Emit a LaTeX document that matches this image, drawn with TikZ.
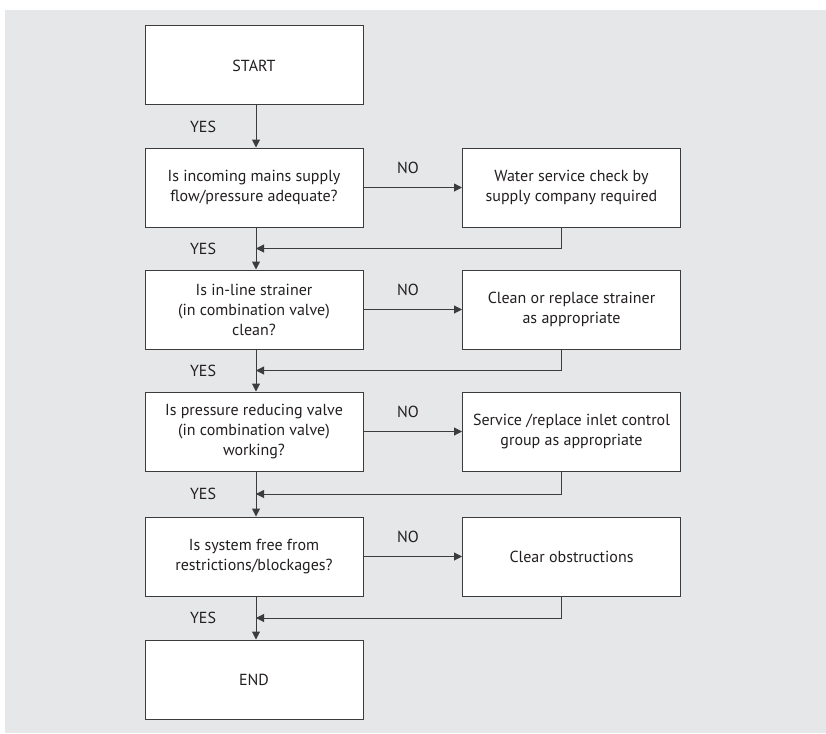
\documentclass[tikz,border=0pt]{standalone}
\usepackage{fontspec}
\setmainfont{PT Sans}
\usetikzlibrary{arrows.meta,calc}
\definecolor{bg}{HTML}{E6E7E8}
\definecolor{ln}{HTML}{3C3C3C}
\definecolor{tx}{HTML}{231F20}
\begin{document}
\begin{tikzpicture}[x=1pt,y=-1pt,
  box/.style={draw=ln, line width=1pt, fill=white, minimum width=218pt, minimum height=79pt,
    align=center, inner sep=0pt, text=tx, font=\fontsize{16}{20}\selectfont},
  conn/.style={draw=ln, line width=1pt, -{Triangle[length=8pt,width=8pt]}},
  lbl/.style={text=tx, font=\fontsize{16}{18}\selectfont, inner sep=0pt}]
\useasboundingbox (0,0) rectangle (826,733);
\fill[bg] (5,10) rectangle (826,733);
\coordinate (c) at (256,0);
\coordinate (r) at (561,0);
% left column
\node[box] (s)  at (254,65.5)  {START};
\node[box] (q1) at (254,187.5) {Is incoming mains supply\\flow/pressure adequate?};
\node[box] (q2) at (254,309.5) {Is in-line strainer\\(in combination valve)\\clean?};
\node[box] (q3) at (254,431.5) {Is pressure reducing valve\\(in combination valve)\\working?};
\node[box] (q4) at (254,556.5) {Is system free from\\restrictions/blockages?};
\node[box] (e)  at (254,679.5) {END};
% right column
\node[box] (a1) at (571.5,187.5) {Water service check by\\supply company required};
\node[box] (a2) at (571.5,309.5) {Clean or replace strainer\\as appropriate};
\node[box] (a3) at (571.5,431.5) {Service /replace inlet control\\group as appropriate};
\node[box] (a4) at (571.5,556.5) {Clear obstructions};
% main flow
\draw[conn] (s.south -| c) -- (q1.north -| c);
\draw[conn] (q1.south -| c) -- (q2.north -| c);
\draw[conn] (q2.south -| c) -- (q3.north -| c);
\draw[conn] (q3.south -| c) -- (q4.north -| c);
\draw[conn] (q4.south -| c) -- (e.north -| c);
% NO branches
\draw[conn] (q1.east) -- (a1.west);
\draw[conn] (q2.east) -- (a2.west);
\draw[conn] (q3.east) -- (a3.west);
\draw[conn] (q4.east) -- (a4.west);
% returns
\draw[conn] (a1.south -| r) |- ($(q1.south -| c)!.5!(q2.north -| c)$);
\draw[conn] (a2.south -| r) |- ($(q2.south -| c)!.5!(q3.north -| c)$);
\draw[conn] (a3.south -| r) |- ($(q3.south -| c)!.5!(q4.north -| c)$);
\draw[conn] (a4.south -| r) |- ($(q4.south -| c)!.5!(e.north -| c)$);
% labels
\node[lbl] (y0) at (203,126.5) {YES};
\node[lbl] (y1) at (203,248.5) {YES};
\node[lbl] (y2) at (203,370.5) {YES};
\node[lbl] (y3) at (203,494) {YES};
\node[lbl] (y4) at (203,618) {YES};
\node[lbl] (n1) at (408,167.5) {NO};
\node[lbl] (n2) at (408,289.5) {NO};
\node[lbl] (n3) at (408,411.5) {NO};
\node[lbl] (n4) at (408,536.5) {NO};
\end{tikzpicture}
\end{document}
